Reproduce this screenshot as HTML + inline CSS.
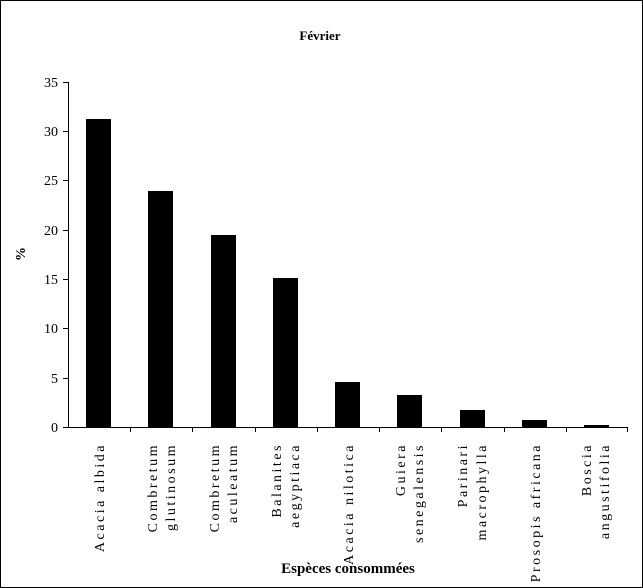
<!DOCTYPE html>
<html><head><meta charset="utf-8"><style>
html,body{margin:0;padding:0;background:#fff}
svg{display:block}
text{font-family:"Liberation Serif",serif;fill:#000}
</style></head><body>
<svg width="643" height="588" xmlns="http://www.w3.org/2000/svg">
<rect x="0.5" y="0.5" width="642" height="587" fill="#fff" stroke="#000"/>
<text x="320" y="40" font-size="13" font-weight="bold" text-anchor="middle">Février</text>
<text transform="translate(25,254) rotate(-90)" font-size="14" font-weight="bold" text-anchor="middle">%</text>
<g stroke="#000" stroke-width="1">
<line x1="68.5" y1="82" x2="68.5" y2="427"/>
<line x1="68" y1="427.5" x2="628" y2="427.5"/>
<line x1="63" y1="82.5" x2="68" y2="82.5"/>
<line x1="63" y1="131.5" x2="68" y2="131.5"/>
<line x1="63" y1="180.5" x2="68" y2="180.5"/>
<line x1="63" y1="230.5" x2="68" y2="230.5"/>
<line x1="63" y1="279.5" x2="68" y2="279.5"/>
<line x1="63" y1="328.5" x2="68" y2="328.5"/>
<line x1="63" y1="378.5" x2="68" y2="378.5"/>
<line x1="63" y1="427.5" x2="68" y2="427.5"/>
<line x1="130.5" y1="427" x2="130.5" y2="432"/>
<line x1="192.5" y1="427" x2="192.5" y2="432"/>
<line x1="255.5" y1="427" x2="255.5" y2="432"/>
<line x1="317.5" y1="427" x2="317.5" y2="432"/>
<line x1="379.5" y1="427" x2="379.5" y2="432"/>
<line x1="441.5" y1="427" x2="441.5" y2="432"/>
<line x1="504.5" y1="427" x2="504.5" y2="432"/>
<line x1="566.5" y1="427" x2="566.5" y2="432"/>
<line x1="627.5" y1="427" x2="627.5" y2="432"/>
</g>
<g font-size="14" text-anchor="end">
<text x="58" y="87">35</text><text x="58" y="136">30</text><text x="58" y="185">25</text>
<text x="58" y="235">20</text><text x="58" y="284">15</text><text x="58" y="333">10</text>
<text x="58" y="383">5</text><text x="58" y="432">0</text>
</g>
<g fill="#000">
<rect x="86" y="119" width="25" height="308"/>
<rect x="148" y="191" width="25" height="236"/>
<rect x="211" y="235" width="25" height="192"/>
<rect x="273" y="278" width="25" height="149"/>
<rect x="335" y="382" width="25" height="45"/>
<rect x="397" y="395" width="25" height="32"/>
<rect x="460" y="410" width="25" height="17"/>
<rect x="522" y="420" width="25" height="7"/>
<rect x="584" y="425" width="25" height="2"/>
</g>
<g font-size="14" text-anchor="end" letter-spacing="2.5">
<text transform="translate(104,443) rotate(-90)">Acacia albida</text>
<text transform="translate(157,443) rotate(-90)">Combretum</text>
<text transform="translate(175,443) rotate(-90)">glutinosum</text>
<text transform="translate(219,443) rotate(-90)">Combretum</text>
<text transform="translate(237,443) rotate(-90)">aculeatum</text>
<text transform="translate(281,443) rotate(-90)">Balanites</text>
<text transform="translate(299,443) rotate(-90)">aegyptiaca</text>
<text transform="translate(353,443) rotate(-90)">Acacia nilotica</text>
<text transform="translate(405,443) rotate(-90)">Guiera</text>
<text transform="translate(423,443) rotate(-90)">senegalensis</text>
<text transform="translate(467,443) rotate(-90)">Parinari</text>
<text transform="translate(486,443) rotate(-90)">macrophylla</text>
<text transform="translate(540,443) rotate(-90)">Prosopis africana</text>
<text transform="translate(591,443) rotate(-90)">Boscia</text>
<text transform="translate(609,443) rotate(-90)">angustifolia</text>
</g>
<text x="348" y="573" font-size="15" font-weight="bold" text-anchor="middle">Espèces consommées</text>
</svg>
</body></html>
